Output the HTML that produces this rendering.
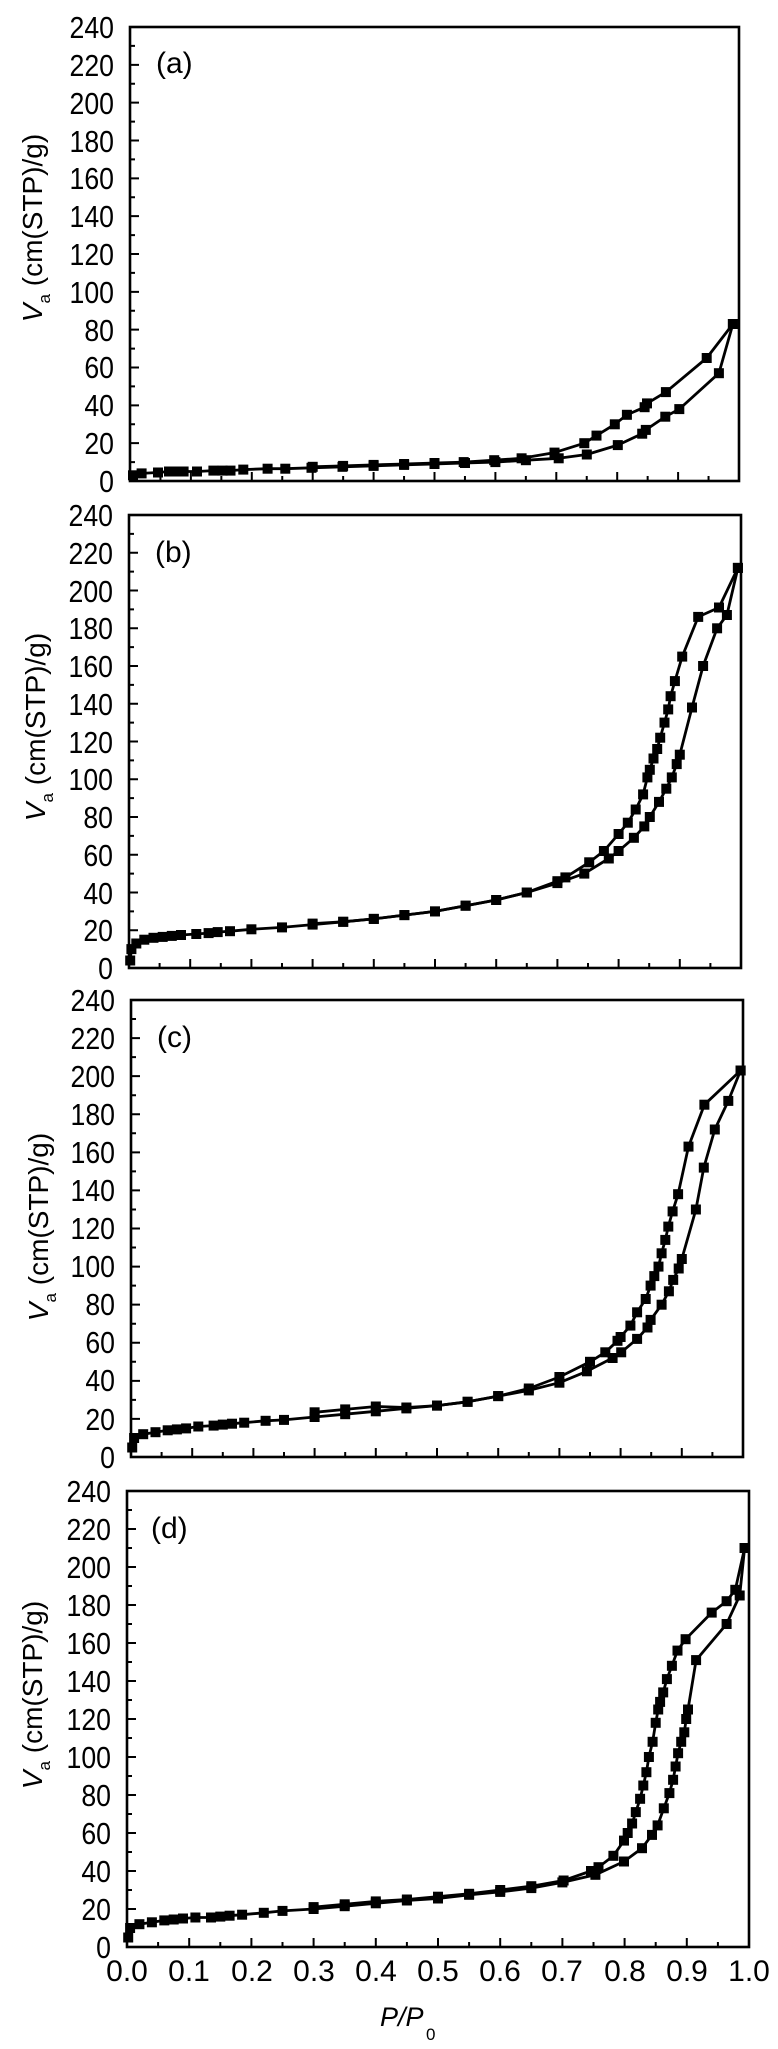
<!DOCTYPE html>
<html><head><meta charset="utf-8"><style>
html,body{margin:0;padding:0;background:#fff;}
svg{display:block;}
text{font-family:"Liberation Sans",Arial,sans-serif;fill:#000;}
</style></head><body>
<svg id="s" width="778" height="2049" viewBox="0 0 778 2049" xmlns="http://www.w3.org/2000/svg">
<g id="plots"></g>
<g font-size="31" text-anchor="end">
<g transform="translate(114,0) scale(0.86,1)">
<text x="0" y="38">240</text><text x="0" y="76">220</text><text x="0" y="114">200</text><text x="0" y="152">180</text><text x="0" y="189">160</text><text x="0" y="227">140</text><text x="0" y="265">120</text><text x="0" y="303">100</text><text x="0" y="341">80</text><text x="0" y="378">60</text><text x="0" y="416">40</text><text x="0" y="454">20</text><text x="0" y="492">0</text>
</g>
<g transform="translate(113,0) scale(0.86,1)">
<text x="0" y="526">240</text><text x="0" y="564">220</text><text x="0" y="602">200</text><text x="0" y="639">180</text><text x="0" y="677">160</text><text x="0" y="715">140</text><text x="0" y="753">120</text><text x="0" y="790">100</text><text x="0" y="828">80</text><text x="0" y="866">60</text><text x="0" y="904">40</text><text x="0" y="941">20</text><text x="0" y="979">0</text>
</g>
<g transform="translate(115,0) scale(0.86,1)">
<text x="0" y="1011">240</text><text x="0" y="1049">220</text><text x="0" y="1087">200</text><text x="0" y="1125">180</text><text x="0" y="1163">160</text><text x="0" y="1201">140</text><text x="0" y="1239">120</text><text x="0" y="1277">100</text><text x="0" y="1315">80</text><text x="0" y="1353">60</text><text x="0" y="1391">40</text><text x="0" y="1430">20</text><text x="0" y="1468">0</text>
</g>
<g transform="translate(111,0) scale(0.86,1)">
<text x="0" y="1502">240</text><text x="0" y="1540">220</text><text x="0" y="1578">200</text><text x="0" y="1616">180</text><text x="0" y="1654">160</text><text x="0" y="1692">140</text><text x="0" y="1730">120</text><text x="0" y="1768">100</text><text x="0" y="1806">80</text><text x="0" y="1844">60</text><text x="0" y="1882">40</text><text x="0" y="1920">20</text><text x="0" y="1958">0</text>
</g>
</g>
<g font-size="30" text-anchor="middle">
<text x="127" y="1981">0.0</text><text x="189" y="1981">0.1</text><text x="252" y="1981">0.2</text><text x="314" y="1981">0.3</text><text x="376" y="1981">0.4</text><text x="438" y="1981">0.5</text><text x="500" y="1981">0.6</text><text x="562" y="1981">0.7</text><text x="625" y="1981">0.8</text><text x="687" y="1981">0.9</text><text x="749" y="1981">1.0</text>
</g>
<g font-size="30">
<text x="156" y="73">(a)</text>
<text x="155" y="562">(b)</text>
<text x="157" y="1047">(c)</text>
<text x="151" y="1538">(d)</text>
</g>
<g font-size="28">
<text transform="translate(42,228) rotate(-90)" text-anchor="middle"><tspan font-style="italic">V</tspan><tspan font-size="17" dy="8">a</tspan><tspan dy="-8"> (cm(STP)/g)</tspan></text>
<text transform="translate(45,727) rotate(-90)" text-anchor="middle"><tspan font-style="italic">V</tspan><tspan font-size="17" dy="8">a</tspan><tspan dy="-8"> (cm(STP)/g)</tspan></text>
<text transform="translate(48,1227) rotate(-90)" text-anchor="middle"><tspan font-style="italic">V</tspan><tspan font-size="17" dy="8">a</tspan><tspan dy="-8"> (cm(STP)/g)</tspan></text>
<text transform="translate(42,1695) rotate(-90)" text-anchor="middle"><tspan font-style="italic">V</tspan><tspan font-size="17" dy="8">a</tspan><tspan dy="-8"> (cm(STP)/g)</tspan></text>
</g>
<text x="380" y="2026" font-size="27" font-style="italic">P/P</text>
<text x="426" y="2040" font-size="17">0</text>
</svg>
<script>
var panels=[
 {l:130,r:739,t:27,b:481,
  ads:[[0.005,3],[0.019,4],[0.046,4.5],[0.064,5],[0.076,5],[0.088,5],[0.11,5],[0.137,5.5],[0.152,5.5],[0.165,5.5],[0.186,6],[0.226,6.5],[0.255,6.5],[0.298,7],[0.349,7.5],[0.4,8],[0.45,8.5],[0.5,9],[0.55,9.5],[0.6,10],[0.65,11],[0.704,12],[0.75,14],[0.801,19],[0.841,25],[0.847,27],[0.879,34],[0.902,38],[0.967,57],[0.99,83]],
  des:[[0.99,83],[0.947,65],[0.88,47],[0.849,41],[0.845,39],[0.816,35],[0.796,30],[0.766,24],[0.746,20],[0.697,15],[0.643,12],[0.598,11],[0.548,10],[0.5,9.5],[0.45,9],[0.4,8.5],[0.35,8],[0.3,7.5]]},
 {l:129,r:741,t:515,b:968,
  ads:[[0.002,4],[0.004,10],[0.012,13],[0.025,15],[0.04,16],[0.055,16.5],[0.07,17],[0.085,17.5],[0.11,18],[0.13,18.5],[0.145,19],[0.165,19.5],[0.2,20.5],[0.25,21.5],[0.3,23],[0.35,24.5],[0.4,26],[0.45,28],[0.5,30],[0.55,33],[0.6,36],[0.65,40],[0.7,45],[0.744,50],[0.784,58],[0.8,62],[0.825,69],[0.842,75],[0.851,80],[0.866,88],[0.878,95],[0.887,101],[0.895,108],[0.9,113],[0.92,138],[0.938,160],[0.961,180],[0.977,187],[0.995,212]],
  des:[[0.995,212],[0.964,191],[0.93,186],[0.904,165],[0.892,152],[0.885,144],[0.881,137],[0.875,130],[0.868,122],[0.863,116],[0.857,111],[0.851,105],[0.847,101],[0.84,92],[0.828,84],[0.815,77],[0.8,71],[0.776,62],[0.752,56],[0.713,48],[0.7,46],[0.65,40],[0.6,36],[0.55,33],[0.5,30],[0.45,28],[0.4,26],[0.35,24.5],[0.3,23.5]]},
 {l:131,r:743,t:1000,b:1457,
  ads:[[0.002,5],[0.005,10],[0.02,12],[0.04,13],[0.06,14],[0.075,14.5],[0.09,15],[0.11,16],[0.135,16.5],[0.15,17],[0.165,17.5],[0.185,18],[0.22,19],[0.25,19.5],[0.3,21],[0.35,22.5],[0.4,24],[0.45,25.5],[0.5,27],[0.55,29],[0.6,32],[0.65,35],[0.7,39],[0.745,45],[0.787,52],[0.801,55],[0.827,62],[0.844,68],[0.849,72],[0.867,80],[0.879,87],[0.886,93],[0.895,99],[0.9,104],[0.923,130],[0.936,152],[0.954,172],[0.976,187],[0.996,203]],
  des:[[0.996,203],[0.937,185],[0.911,163],[0.894,138],[0.885,129],[0.878,121],[0.873,114],[0.867,107],[0.862,100],[0.855,95],[0.849,90],[0.841,83],[0.827,76],[0.816,69],[0.8,63],[0.795,61],[0.775,55],[0.75,50],[0.7,42],[0.65,36],[0.6,32],[0.55,29],[0.5,27],[0.45,26],[0.4,26.5],[0.35,25],[0.3,23.5]]},
 {l:127,r:749,t:1491,b:1947,
  ads:[[0.002,5],[0.005,10],[0.02,12],[0.04,13],[0.06,14],[0.075,14.5],[0.09,15],[0.11,15.5],[0.135,15.5],[0.15,16],[0.165,16.5],[0.185,17],[0.22,18],[0.25,19],[0.3,20],[0.35,21.5],[0.4,23],[0.45,24.5],[0.5,25.5],[0.55,27.5],[0.6,29],[0.65,31],[0.7,34],[0.753,38],[0.799,45],[0.828,52],[0.844,59],[0.853,64],[0.863,73],[0.872,81],[0.878,88],[0.882,95],[0.886,102],[0.891,108],[0.896,113],[0.899,120],[0.902,125],[0.915,151],[0.964,170],[0.985,185],[0.993,210]],
  des:[[0.993,210],[0.978,188],[0.964,182],[0.94,176],[0.898,162],[0.885,156],[0.876,148],[0.868,141],[0.862,134],[0.857,129],[0.854,125],[0.85,118],[0.845,108],[0.839,100],[0.835,92],[0.83,85],[0.825,78],[0.818,71],[0.812,65],[0.805,60],[0.799,56],[0.782,48],[0.758,42],[0.746,40],[0.702,35],[0.65,32],[0.6,30],[0.55,28],[0.5,26.5],[0.45,25],[0.4,24],[0.35,22.5],[0.3,21]]}
];
var g=document.getElementById("plots"),h="";
panels.forEach(function(p){
 var X=function(v){return p.l+v*(p.r-p.l)},Y=function(v){return p.b-v/240*(p.b-p.t)};
 var d="";
 for(var i=0;i<=20;i++){var x=X(i*0.05),L=i%2?5:9;d+="M"+x+" "+p.b+"V"+(p.b-L);}
 for(var j=0;j<=24;j++){var y=Y(j*10),L2=j%2?5:9;d+="M"+p.l+" "+y+"H"+(p.l+L2);}
 h+='<path d="'+d+'" stroke="#000" stroke-width="2" fill="none"/>';
 [p.ads,p.des].forEach(function(s){
  var pd=s.map(function(q,k){return (k?"L":"M")+X(q[0]).toFixed(1)+" "+Y(q[1]).toFixed(1)}).join("");
  h+='<path d="'+pd+'" stroke="#000" stroke-width="2.8" fill="none" stroke-linejoin="round"/>';
  s.forEach(function(q){h+='<rect x="'+(X(q[0])-5).toFixed(1)+'" y="'+(Y(q[1])-5).toFixed(1)+'" width="10" height="10" fill="#000"/>';});
 });
 h+='<rect x="'+p.l+'" y="'+p.t+'" width="'+(p.r-p.l)+'" height="'+(p.b-p.t)+'" fill="none" stroke="#000" stroke-width="2.6"/>';
});
g.innerHTML=h;
</script>
</body></html>
